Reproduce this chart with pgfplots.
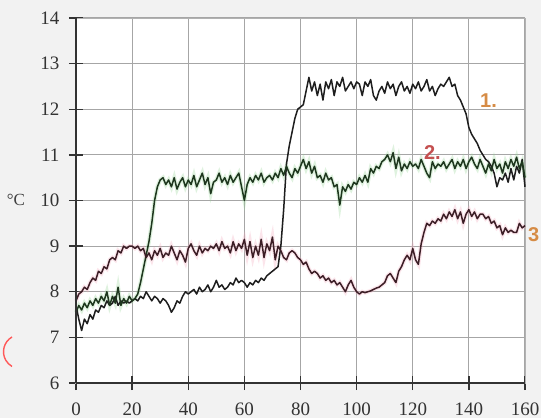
\documentclass[border=0pt]{standalone}
\usepackage{fontspec}
\setmainfont{Liberation Serif}
\setsansfont{Liberation Sans}
\usepackage{pgfplots}
\usepackage{pgfplotstable}
\pgfplotsset{compat=1.18}
\definecolor{lbl1}{RGB}{214,140,70}
\definecolor{lbl2}{RGB}{196,80,80}
\definecolor{halo2}{RGB}{150,215,150}
\definecolor{halo3}{RGB}{245,170,190}
\definecolor{ln}{RGB}{30,30,30}
\definecolor{ln2}{RGB}{30,55,30}
\definecolor{ln3}{RGB}{60,30,38}
\pgfplotstableread{
x a b c
0 7.7 7.55 7.8
1 7.4 7.7 7.95
2 7.15 7.6 8.0
3 7.4 7.75 8.1
4 7.3 7.65 8.05
5 7.5 7.8 8.2
6 7.4 7.7 8.3
7 7.6 7.85 8.25
8 7.55 7.75 8.45
9 7.7 7.9 8.4
10 7.65 7.8 8.55
11 7.8 8.0 8.5
12 7.7 7.7 8.7
13 7.75 7.9 8.75
14 7.9 7.75 8.7
15 7.7 8.1 8.9
16 7.8 7.7 8.85
17 7.75 7.85 9.0
18 7.8 7.75 8.95
19 7.75 7.9 9.0
20 7.8 7.8 9.0
21 7.85 7.85 8.95
22 7.8 7.95 9.0
23 7.9 8.2 8.9
24 7.85 8.5 8.95
25 8.0 8.8 8.75
26 7.9 9.1 8.85
27 7.8 9.5 8.7
28 7.9 10.0 8.9
29 7.85 10.3 8.8
30 7.75 10.45 8.95
31 7.85 10.5 8.75
32 7.8 10.35 8.85
33 7.7 10.45 8.8
34 7.55 10.3 9.0
35 7.65 10.5 8.85
36 7.8 10.25 8.7
37 7.75 10.4 8.9
38 7.9 10.5 8.8
39 8.0 10.3 8.65
40 7.95 10.45 8.95
41 8.0 10.35 9.05
42 8.05 10.55 8.9
43 7.95 10.3 8.8
44 8.1 10.45 9.0
45 8.0 10.6 8.85
46 8.05 10.35 8.95
47 8.15 10.5 8.9
48 8.0 10.15 9.0
49 8.1 10.4 8.95
50 8.25 10.45 9.05
51 8.1 10.6 8.9
52 8.15 10.4 9.1
53 8.05 10.5 8.95
54 8.1 10.35 9.0
55 8.2 10.55 8.85
56 8.15 10.4 9.1
57 8.3 10.5 8.9
58 8.2 10.6 9.05
59 8.25 10.3 8.95
60 8.2 10.0 9.15
61 8.1 10.35 8.8
62 8.2 10.5 9.1
63 8.15 10.4 8.75
64 8.25 10.55 9.0
65 8.2 10.45 8.8
66 8.3 10.6 9.15
67 8.25 10.4 8.75
68 8.35 10.5 9.05
69 8.4 10.55 8.9
70 8.45 10.45 9.2
71 8.5 10.6 8.7
72 8.55 10.5 9.0
73 9.0 10.7 8.9
74 9.8 10.55 8.75
75 10.8 10.75 8.7
76 11.2 10.6 8.85
77 11.5 10.5 8.9
78 11.8 10.7 8.85
79 12.0 10.6 8.75
80 12.05 10.75 8.7
81 12.1 10.9 8.6
82 12.4 10.7 8.65
83 12.7 10.85 8.5
84 12.4 10.6 8.4
85 12.6 10.75 8.45
86 12.3 10.5 8.4
87 12.55 10.55 8.3
88 12.2 10.4 8.35
89 12.6 10.6 8.25
90 12.45 10.45 8.3
91 12.65 10.5 8.2
92 12.3 10.3 8.25
93 12.6 10.35 8.15
94 12.5 9.9 8.2
95 12.7 10.3 8.1
96 12.4 10.2 8.0
97 12.5 10.35 8.15
98 12.6 10.25 8.25
99 12.45 10.4 8.1
100 12.6 10.35 8.0
101 12.55 10.5 7.95
102 12.3 10.4 8.0
103 12.6 10.55 7.98
104 12.5 10.4 8.0
105 12.65 10.7 8.02
106 12.3 10.6 8.05
107 12.2 10.75 8.08
108 12.4 10.7 8.1
109 12.5 10.85 8.15
110 12.35 10.9 8.2
111 12.6 11.0 8.35
112 12.45 10.85 8.4
113 12.55 11.05 8.3
114 12.3 10.7 8.2
115 12.5 10.95 8.45
116 12.6 10.65 8.55
117 12.4 10.8 8.7
118 12.5 10.7 8.8
119 12.35 10.85 8.7
120 12.55 10.75 8.95
121 12.45 10.8 8.7
122 12.6 10.7 8.6
123 12.4 10.9 9.05
124 12.5 10.75 9.3
125 12.65 10.6 9.5
126 12.4 10.5 9.45
127 12.5 10.85 9.55
128 12.3 10.7 9.5
129 12.45 10.8 9.6
130 12.55 10.75 9.55
131 12.5 10.85 9.7
132 12.6 10.7 9.6
133 12.7 10.8 9.75
134 12.5 10.9 9.65
135 12.55 10.7 9.8
136 12.3 10.85 9.6
137 12.2 10.75 9.75
138 12.05 10.9 9.5
139 11.9 10.7 9.7
140 11.6 10.85 9.8
141 11.45 10.95 9.65
142 11.35 10.8 9.75
143 11.25 10.7 9.6
144 11.1 10.9 9.7
145 11.0 10.75 9.7
146 10.9 10.6 9.6
147 10.85 10.8 9.65
148 10.75 10.65 9.5
149 10.6 10.9 9.55
150 10.3 10.7 9.4
151 10.5 10.8 9.45
152 10.45 10.6 9.25
153 10.6 10.85 9.4
154 10.4 10.7 9.3
155 10.7 10.9 9.35
156 10.45 10.75 9.3
157 10.75 10.95 9.3
158 10.6 10.7 9.5
159 10.9 10.85 9.4
160 10.3 10.5 9.45
}\data
\begin{document}
\begin{tikzpicture}[x=1pt,y=1pt]
\fill[black!5] (0,0) rectangle (541,418);
\useasboundingbox (0,0) rectangle (541,418);
\node[font=\fontsize{17}{18}\selectfont, text=black!75] at (16,218) {°C};
\draw[red!65, line width=1.4pt] (12,81) arc[start angle=120, end angle=240, radius=17];
\begin{axis}[
  at={(76pt,35pt)}, anchor=south west, scale only axis,
  width=449pt, height=365pt,
  xmin=0, xmax=160, ymin=6, ymax=14,
  xtick={0,20,...,160}, ytick={6,7,...,14},
  axis background/.style={fill=white},
  grid=major, grid style={draw=black!35, line width=1.1pt},
  axis line style={draw=black!30, line width=1pt},
  tick pos=left, tick align=center, major tick length=14pt,
  tick style={draw=black!80, line width=1.3pt},
  /pgf/number format/assume math mode=true,
  ticklabel style={font=\fontsize{19}{20}\selectfont, text=black!80},
  yticklabel style={xshift=-6pt},
  xticklabel style={yshift=-9pt},
  clip=false,
]
\addplot[halo2, line width=4pt, opacity=0.3] table[x=x,y=b] {\data};
\addplot[halo3, line width=4pt, opacity=0.3] table[x=x,y=c] {\data};
\addplot[ln, line width=1.5pt, line join=round] table[x=x,y=a] {\data};
\addplot[ln2, line width=1.5pt, line join=round] table[x=x,y=b] {\data};
\addplot[ln3, line width=1.5pt, line join=round] table[x=x,y=c] {\data};
\draw[black!80, line width=1.8pt] (rel axis cs:0,0) -- (rel axis cs:0,1);
\draw[black!80, line width=1.8pt] (rel axis cs:0,0) -- (rel axis cs:1,0);
\node[font=\sffamily\bfseries\fontsize{20}{22}\selectfont, text=lbl1] at (axis cs:147,12.2) {1.};
\node[font=\sffamily\bfseries\fontsize{20}{22}\selectfont, text=lbl2] at (axis cs:127,11.05) {2.};
\node[font=\sffamily\bfseries\fontsize{20}{22}\selectfont, text=lbl1, anchor=east, inner sep=1pt] at (axis cs:165.5,9.25) {3};
\end{axis}
\end{tikzpicture}
\end{document}
